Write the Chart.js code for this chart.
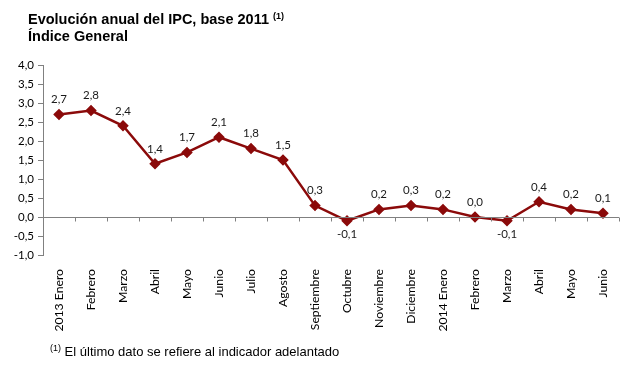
<!DOCTYPE html>
<html>
<head>
<meta charset="utf-8">
<script src="https://cdn.jsdelivr.net/npm/chart.js@4.4.1/dist/chart.umd.min.js"></script>
<style>
  body { margin: 0; background: #fff; }
  #wrap { position: relative; width: 636px; height: 367px; overflow: hidden; }
  #chart { position: absolute; left: 0; top: 0; }
  .title { position: absolute; left: 28px; font-family: "Liberation Sans", Arial, sans-serif; font-weight: bold; font-size: 14.5px; color: #000; }
  .note { position: absolute; left: 50px; top: 343px; font-family: "Liberation Sans", Arial, sans-serif; font-size: 13px; color: #000; }
  sup { font-size: 9px; vertical-align: 5px; }
</style>
</head>
<body>
<div id="wrap">
  <canvas id="chart" width="636" height="367"></canvas>
  <div class="title" style="top: 11px;">Evolución anual del IPC, base 2011 <sup>(1)</sup></div>
  <div class="title" style="top: 28px;">Índice General</div>
  <div class="note"><sup>(1)</sup> El último dato se refiere al indicador adelantado</div>
</div>
<script>
// months (2013 Enero .. 2014 Junio)
const months = ["2013 Enero", "Febrero", "Marzo", "Abril", "Mayo", "Junio", "Julio", "Agosto",
  "Septiembre", "Octubre", "Noviembre", "Diciembre", "2014 Enero", "Febrero", "Marzo",
  "Abril", "Mayo", "Junio"];

// annual IPC rate (%)
const ipc = [2.7, 2.8, 2.4, 1.4, 1.7, 2.1, 1.8, 1.5, 0.3, -0.1, 0.2, 0.3, 0.2, 0.0, -0.1, 0.4, 0.2, 0.1];

const yMin = -1.0;
const yMax = 4.0;
const yStep = 0.5;

const fmt = v => v.toFixed(1).replace(".", ",");

// zero line with small ticks between categories + value labels
const extras = {
  id: "extras",
  afterDatasetsDraw(chart) {
    const ctx = chart.ctx;
    const x = chart.scales.x;
    const y = chart.scales.y;
    const y0 = Math.round(y.getPixelForValue(0)) + 0.5;
    ctx.save();
    ctx.strokeStyle = "#808080";
    ctx.lineWidth = 1;
    ctx.beginPath();
    ctx.moveTo(x.left, y0);
    ctx.lineTo(x.right, y0);
    for (let i = 0; i <= months.length; i++) {
      const px = Math.round(x.left + (x.right - x.left) * i / months.length) + 0.5;
      ctx.moveTo(px, y0);
      ctx.lineTo(px, y0 + 4);
    }
    ctx.stroke();

    ctx.fillStyle = "#1a1a1a";
    ctx.font = "11.5px Lato, 'Open Sans', sans-serif";
    ctx.textAlign = "center";
    ctx.textBaseline = "middle";
    const meta = chart.getDatasetMeta(0);
    meta.data.forEach((pt, i) => {
      const v = ipc[i];
      const dy = v < 0 ? 13 : -15;
      ctx.fillText(fmt(v), pt.x, pt.y + dy);
    });
    ctx.restore();
  }
};

new Chart(document.getElementById("chart"), {
  type: "line",
  data: {
    labels: months,
    datasets: [{
      data: ipc,
      borderColor: "#8B0A0A",
      backgroundColor: "#8B0A0A",
      borderWidth: 2.5,
      pointStyle: "rectRot",
      pointRadius: 4,
      pointHoverRadius: 4,
      tension: 0,
      fill: false
    }]
  },
  options: {
    responsive: false,
    animation: false,
    layout: { padding: { top: 65, right: 17, left: 0, bottom: 0 } },
    plugins: { legend: { display: false }, tooltip: { enabled: false } },
    scales: {
      x: {
        offset: true,
        border: { display: false },
        grid: { display: false, offset: true },
        ticks: {
          minRotation: 90,
          maxRotation: 90,
          autoSkip: false,
          padding: 6,
          color: "#000",
          font: { family: "Lato, 'Open Sans', sans-serif", size: 12.2 }
        },
        afterFit(s) { s.height = 112; }
      },
      y: {
        min: yMin,
        max: yMax,
        border: { display: true, color: "#808080" },
        grid: { drawOnChartArea: false, drawTicks: true, tickLength: 5, color: "#808080" },
        ticks: {
          stepSize: yStep,
          padding: 4,
          color: "#000",
          font: { family: "Lato, 'Open Sans', sans-serif", size: 11.5 },
          callback: v => fmt(v)
        },
        afterFit(s) { s.width = 43; }
      }
    }
  },
  plugins: [extras]
});
</script>
</body>
</html>
